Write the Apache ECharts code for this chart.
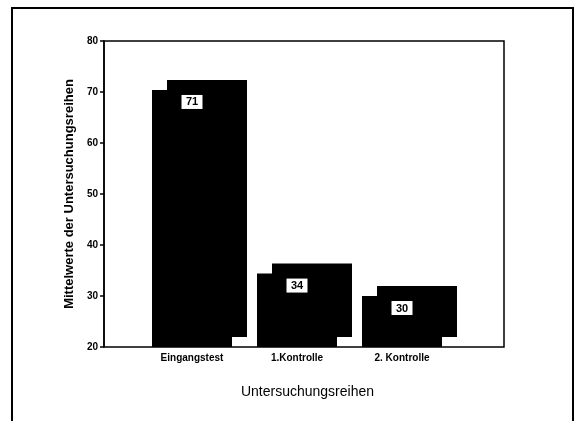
<!DOCTYPE html>
<html>
<head>
<meta charset="utf-8">
<script src="https://cdn.jsdelivr.net/npm/echarts@6/dist/echarts.min.js"></script>
<style>
  html, body { margin: 0; padding: 0; background: #fff; }
  #chart { width: 579px; height: 421px; }
</style>
</head>
<body>
<div id="chart"></div>
<script>
// ---- data ----
var categories = ['Eingangstest', '1.Kontrolle', '2. Kontrolle'];
var barTops = [70.4, 34.4, 30.0];        // height of the front face of each bar
var barLabels = [71, 34, 30];            // values printed in the white boxes
var yTicks = { min: 20, max: 80, interval: 10 };

var FONT = '"Liberation Sans", Arial, sans-serif';
var chart = echarts.init(document.getElementById('chart'));

var seriesData = categories.map(function (c, i) { return [i, barTops[i], barLabels[i]]; });

chart.setOption({
  animation: false,
  backgroundColor: '#fff',
  graphic: [{
    type: 'polyline',
    shape: { points: [[12, 421], [12, 8], [573, 8], [573, 421]] },
    style: { stroke: '#000', lineWidth: 2, fill: null },
    silent: true
  }],
  grid: [
    { left: 104, top: 41, width: 400, height: 306, show: true, borderColor: '#000', borderWidth: 1.5, backgroundColor: 'transparent' },
    { left: 139.5, top: 41, width: 315, height: 306, show: false }
  ],
  xAxis: [
    {
      gridIndex: 0, type: 'value', min: 0, max: 1,
      axisLine: { show: false }, axisTick: { show: false }, axisLabel: { show: false }, splitLine: { show: false },
      name: 'Untersuchungsreihen', nameLocation: 'middle', nameGap: 38,
      nameTextStyle: { fontFamily: FONT, fontSize: 14, color: '#000', padding: [0, 0, 0, 7] }
    },
    {
      gridIndex: 1, type: 'category', data: categories,
      axisLine: { show: false }, axisTick: { show: false }, splitLine: { show: false },
      axisLabel: { fontFamily: FONT, fontSize: 10, fontWeight: 'bold', color: '#000', margin: 6 }
    }
  ],
  yAxis: [
    {
      gridIndex: 0, type: 'value', min: yTicks.min, max: yTicks.max, interval: yTicks.interval,
      axisLine: { show: true, lineStyle: { color: '#000', width: 1.5 } },
      axisTick: { show: true, length: 4, lineStyle: { color: '#000', width: 1.5 } },
      axisLabel: { fontFamily: FONT, fontSize: 10, fontWeight: 'bold', color: '#000', margin: 6 },
      splitLine: { show: false },
      name: 'Mittelwerte der Untersuchungsreihen', nameLocation: 'middle', nameGap: 27,
      nameTextStyle: { fontFamily: FONT, fontSize: 13, fontWeight: 'bold', color: '#000' }
    },
    { gridIndex: 1, type: 'value', min: yTicks.min, max: yTicks.max, show: false }
  ],
  series: [{
    type: 'custom',
    xAxisIndex: 1, yAxisIndex: 1,
    data: seriesData,
    renderItem: function (params, api) {
      var idx = api.value(0);
      var top = api.coord([idx, api.value(1)]);
      var base = api.coord([idx, yTicks.min]);
      var w = 80, dx = 15, dy = 10;
      var cx = top[0];
      var h = base[1] - top[1];
      var lbl = String(api.value(2));
      return {
        type: 'group',
        children: [
          { type: 'rect', shape: { x: cx - w / 2 + dx, y: top[1] - dy, width: w, height: h }, style: { fill: '#000' } },
          { type: 'rect', shape: { x: cx - w / 2, y: top[1], width: w, height: h }, style: { fill: '#000' } },
          { type: 'rect', shape: { x: cx - 10.5, y: top[1] + 5, width: 21, height: 14 }, style: { fill: '#fff' } },
          { type: 'text', x: cx, y: top[1] + 12.5,
            style: { text: lbl, fill: '#000', font: 'bold 11px ' + FONT, textAlign: 'center', textVerticalAlign: 'middle' } }
        ]
      };
    }
  }]
});
</script>
</body>
</html>
